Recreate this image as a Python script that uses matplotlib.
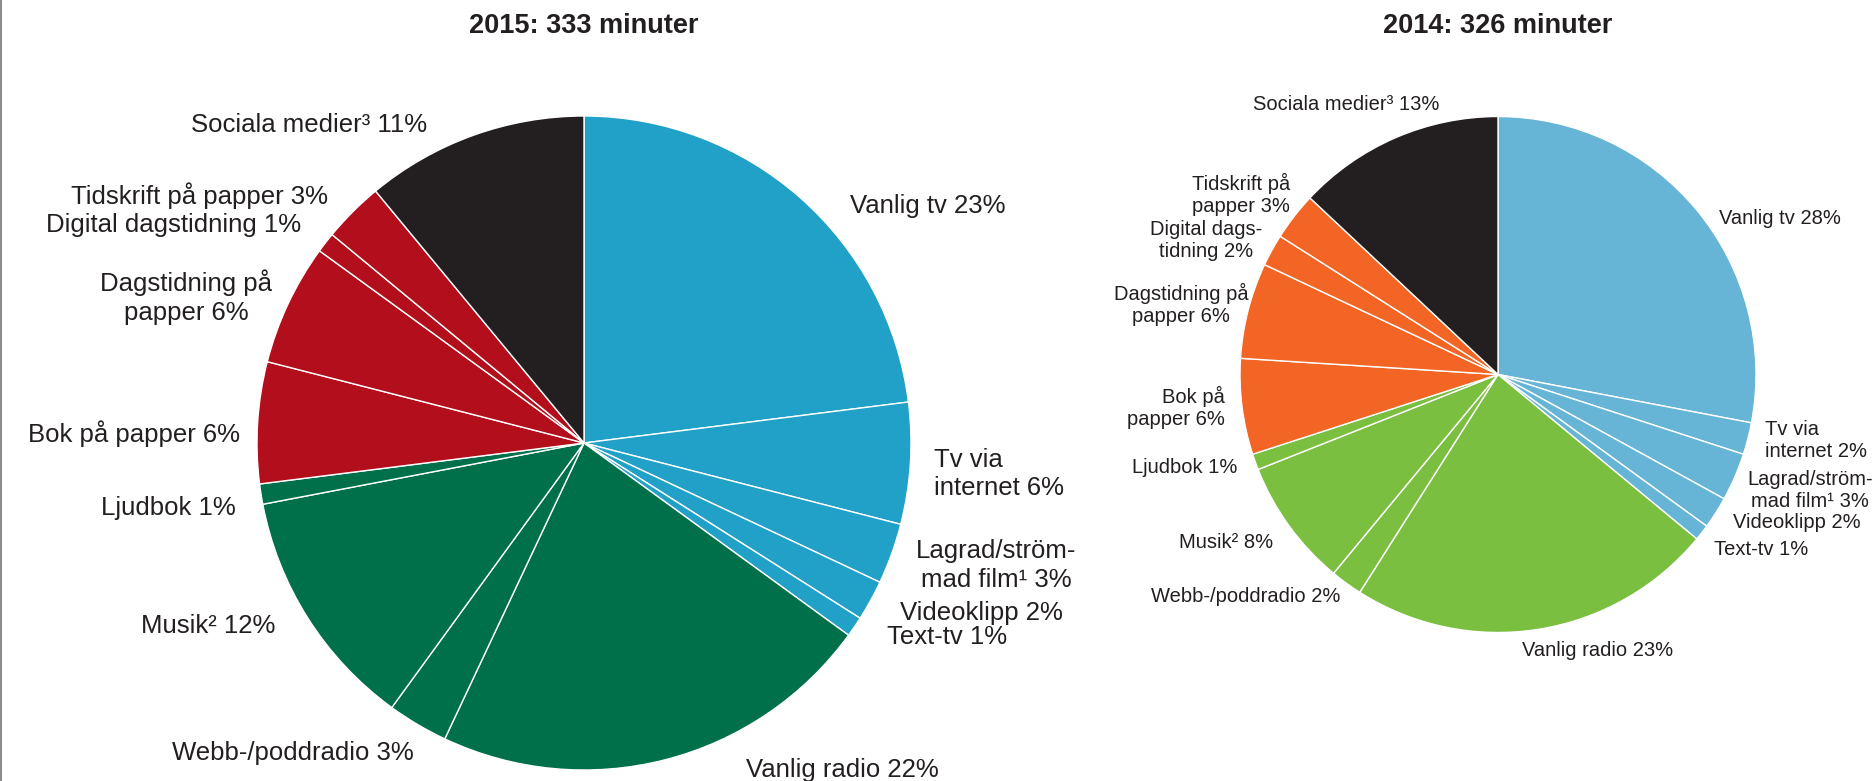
import matplotlib.pyplot as plt
from matplotlib.lines import Line2D

# 2015 data, clockwise from 12 o'clock
names_2015 = ["Vanlig tv", "Tv via\ninternet", "Lagrad/ström-\nmad film¹", "Videoklipp", "Text-tv",
              "Vanlig radio", "Webb-/poddradio", "Musik²", "Ljudbok", "Bok på papper",
              "Dagstidning på\npapper", "Digital dagstidning", "Tidskrift på papper", "Sociala medier³"]
share_2015 = [23, 6, 3, 2, 1, 22, 3, 12, 1, 6, 6, 1, 3, 11]

# 2014 data
names_2014 = ["Vanlig tv", "Tv via\ninternet", "Lagrad/ström-\nmad film¹", "Videoklipp", "Text-tv",
              "Vanlig radio", "Webb-/poddradio", "Musik²", "Ljudbok", "Bok på\npapper",
              "Dagstidning på\npapper", "Digital dags-\ntidning", "Tidskrift på\npapper", "Sociala medier³"]
share_2014 = [28, 2, 3, 2, 1, 23, 2, 8, 1, 6, 6, 2, 3, 13]

groups = ["tv"] * 5 + ["radio"] * 4 + ["print"] * 4 + ["social"]

titles = ["2015: 333 minuter", "2014: 326 minuter"]

colors_2015 = {"tv": "#21A0C8", "radio": "#00704A", "print": "#B20E1C", "social": "#231F20"}
colors_2014 = {"tv": "#67B5D6", "radio": "#7BBF41", "print": "#F26524", "social": "#231F20"}

# label anchors (relative to pie centre, in radius units) and alignment
layout_2015 = [(0.813, 0.725, "left"), (1.07, -0.095, "left"), (1.26, -0.374, "center"),
               (0.967, -0.52, "left"), (0.927, -0.593, "left"), (0.495, -1.0, "left"),
               (-0.52, -0.949, "right"), (-0.945, -0.56, "right"), (-1.066, -0.198, "right"),
               (-1.051, 0.029, "right"), (-1.216, 0.447, "center"), (-0.864, 0.667, "right"),
               (-0.784, 0.755, "right"), (-0.48, 0.974, "right")]
layout_2014 = [(0.857, 0.603, "left"), (1.035, -0.254, "left"), (1.209, -0.448, "center"),
               (0.911, -0.572, "left"), (0.837, -0.68, "left"), (0.093, -1.068, "left"),
               (-0.612, -0.862, "right"), (-0.872, -0.653, "right"), (-1.012, -0.362, "right"),
               (-1.058, -0.126, "right"), (-1.229, 0.273, "center"), (-1.132, 0.521, "center"),
               (-0.996, 0.696, "center"), (-0.589, 1.045, "center")]

W, H = 1876, 781
TEXT = "#231F20"
plt.rcParams["font.family"] = ["Liberation Sans", "DejaVu Sans"]

fig = plt.figure(figsize=(W / 100, H / 100), dpi=100)
ax = fig.add_axes([0, 0, 1, 1])

pies = [
    (names_2015, share_2015, colors_2015, layout_2015, (584, H - 443), 327, 18.5, 1.25),
    (names_2014, share_2014, colors_2014, layout_2014, (1498, H - 374.5), 258, 14.5, 1.2),
]

for (names, shares, cmap, layout, center, radius, fs, ls), title in zip(pies, titles):
    ax.pie(shares, colors=[cmap[g] for g in groups], startangle=90, counterclock=False,
           center=center, radius=radius, frame=True,
           wedgeprops=dict(edgecolor="white", linewidth=1.0))
    for name, val, (rx, ry, ha) in zip(names, shares, layout):
        ax.text(center[0] + rx * radius, center[1] + ry * radius, f"{name} {val}%",
                ha=ha, va="center", multialignment=ha,
                fontsize=fs, color=TEXT, linespacing=ls)
    ax.text(center[0], H - 26, title, ha="center", va="center", fontsize=19.5,
            fontweight="bold", color=TEXT,
            family=["Liberation Sans Narrow", "Liberation Sans", "DejaVu Sans"])

ax.set_xlim(0, W)
ax.set_ylim(0, H)
ax.set_aspect("equal")
ax.axis("off")

fig.add_artist(Line2D([1 / W, 1 / W], [0, 1], color="#8C8C8C", linewidth=1.5,
                      transform=fig.transFigure))

fig.savefig("out.png", dpi=100)
